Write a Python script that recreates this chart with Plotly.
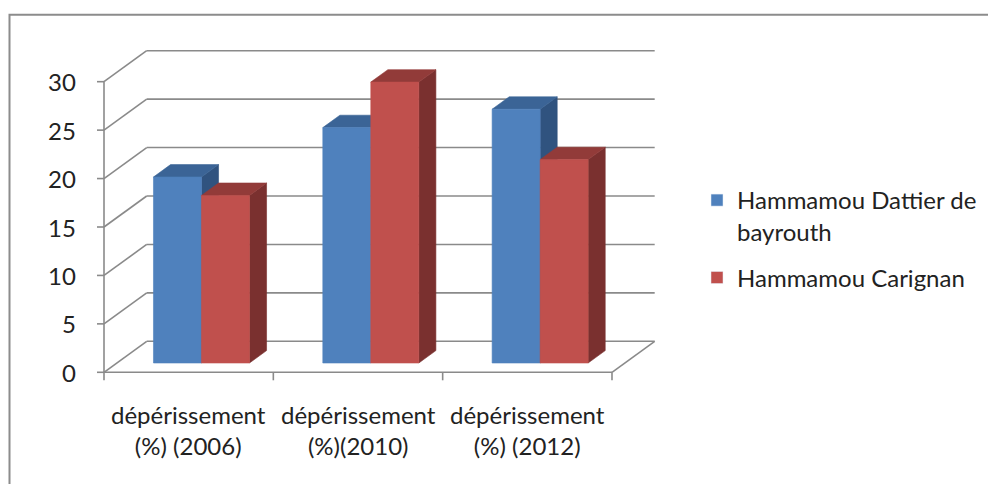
import plotly.graph_objects as go

# ---- data ----
categories = ["dépérissement<br>(%) (2006)", "dépérissement<br>(%)(2010)", "dépérissement<br>(%) (2012)"]
series_names = ["Hammamou Dattier de<br>bayrouth", "Hammamou Carignan"]
dattier = [19.2, 24.3, 26.2]
carignan = [17.3, 29.0, 21.0]
y_ticks = [0, 5, 10, 15, 20, 25, 30]

# ---- styling / geometry ----
front_cols = ["#4F81BD", "#C0504D"]
top_cols = ["#3B6496", "#923B39"]
side_cols = ["#30537F", "#7A302F"]
grid_col = "#8A8A8A"
FONT = "Lato"
FS = 24

W, H = 988, 484
PX_X = 169.33           # px per category unit
PX_Y = 9.687            # px per value unit
X0PX, Y0PX = 104, 372.3 # pixel of (x=-0.5, v=0)
DX, DY = 42.7 / PX_X, 31.0 / PX_Y   # depth offset (full depth) in data units
Z0, Z1 = 0.3, 0.7       # bar depth span
BW = 0.2835             # bar width

xr = [-0.5 - X0PX / PX_X, -0.5 + (W - X0PX) / PX_X]
yr = [(Y0PX - H) / PX_Y, Y0PX / PX_Y]


def P(x, v, z):
    return x + z * DX, v + z * DY


def poly(pts, color):
    xs = [p[0] for p in pts] + [pts[0][0]]
    ys = [p[1] for p in pts] + [pts[0][1]]
    return go.Scatter(x=xs, y=ys, mode="lines", fill="toself", fillcolor=color,
                      line=dict(width=0.6, color=color), hoverinfo="skip",
                      showlegend=False)


fig = go.Figure()
n = len(categories)
values = [dattier, carignan]
for i in range(n):
    for s in range(2):
        v = values[s][i]
        x0 = i - BW + s * BW
        x1 = x0 + BW
        fig.add_trace(poly([P(x1, 0, Z0), P(x1, v, Z0), P(x1, v, Z1), P(x1, 0, Z1)], side_cols[s]))
        fig.add_trace(poly([P(x0, v, Z0), P(x1, v, Z0), P(x1, v, Z1), P(x0, v, Z1)], top_cols[s]))
        fig.add_trace(poly([P(x0, 0, Z0), P(x1, 0, Z0), P(x1, v, Z0), P(x0, v, Z0)], front_cols[s]))

# legend entries
for s in range(2):
    fig.add_trace(go.Bar(x=[None], y=[None], name=series_names[s],
                         marker_color=front_cols[s], legendgroup=str(s)))

shapes = []
line = dict(color=grid_col, width=1.6)
xa, xb = -0.5, -0.5 + n
for t in y_ticks:
    shapes.append(dict(type="line", x0=xa + DX, x1=xb + DX, y0=t + DY, y1=t + DY,
                       xref="x", yref="y", line=line, layer="below"))
    shapes.append(dict(type="line", x0=xa, x1=xa + DX, y0=t, y1=t + DY,
                       xref="x", yref="y", line=line, layer="below"))
    shapes.append(dict(type="line", x0=xa - 7 / PX_X, x1=xa, y0=t, y1=t,
                       xref="x", yref="y", line=line, layer="below"))
shapes.append(dict(type="line", x0=xa, x1=xa, y0=0, y1=y_ticks[-1],
                   xref="x", yref="y", line=line, layer="below"))
shapes.append(dict(type="line", x0=xa, x1=xb, y0=0, y1=0, xref="x", yref="y", line=line, layer="below"))
shapes.append(dict(type="line", x0=xb, x1=xb + DX, y0=0, y1=DY, xref="x", yref="y", line=line, layer="below"))
for k in range(n + 1):
    shapes.append(dict(type="line", x0=xa + k, x1=xa + k, y0=0, y1=-8 / PX_Y,
                       xref="x", yref="y", line=line, layer="below"))
# outer frame
shapes.append(dict(type="rect", x0=9.5 / W, x1=1.02, y0=1 - 14.7 / H, y1=-0.05,
                   xref="paper", yref="paper", line=dict(color="#8C8C8C", width=2),
                   layer="below"))

annotations = []
for t in y_ticks:
    annotations.append(dict(x=xa - 26 / PX_X, y=t, text=str(t), showarrow=False,
                            xanchor="right", yanchor="middle", xref="x", yref="y",
                            font=dict(family=FONT, size=FS, color="#222222")))
for i, c in enumerate(categories):
    annotations.append(dict(x=i, y=(Y0PX - 429.5) / PX_Y, text=c, showarrow=False,
                            xanchor="center", yanchor="middle", xref="x", yref="y",
                            font=dict(family=FONT, size=FS, color="#222222")))

fig.update_layout(
    width=W, height=H,
    margin=dict(l=0, r=0, t=0, b=0, autoexpand=False),
    paper_bgcolor="white", plot_bgcolor="white",
    xaxis=dict(range=xr, visible=False, fixedrange=True),
    yaxis=dict(range=yr, visible=False, fixedrange=True),
    shapes=shapes, annotations=annotations,
    showlegend=True,
    legend=dict(x=697 / W, y=1 - 178 / H, xref="container", yref="container",
                xanchor="left", yanchor="top", valign="top",
                font=dict(family=FONT, size=FS, color="#222222"),
                traceorder="grouped", tracegroupgap=12,
                bgcolor="rgba(0,0,0,0)"),
)

fig.write_html("out.html")
